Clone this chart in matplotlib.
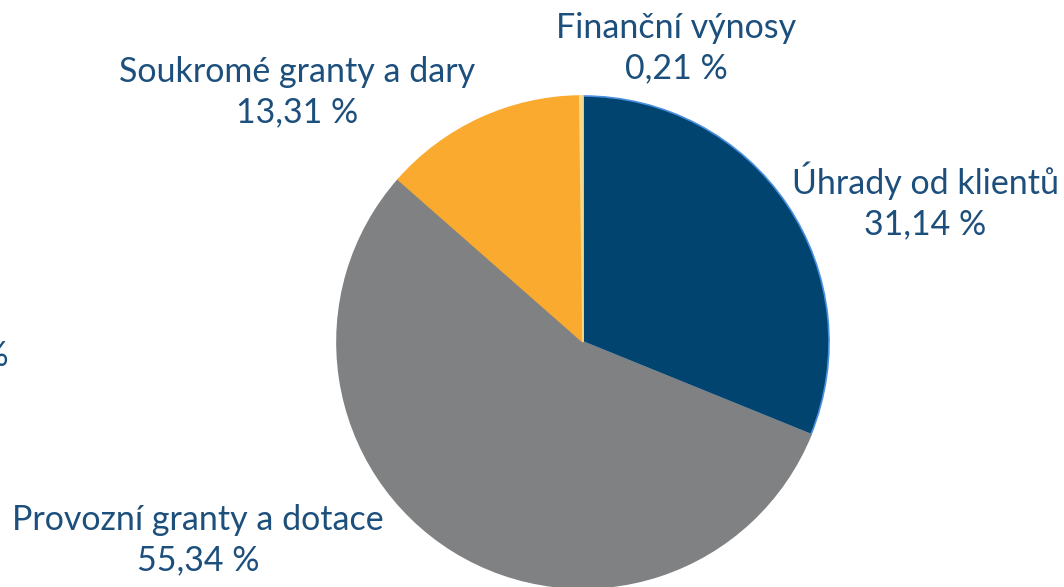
import matplotlib
matplotlib.use("Agg")
import matplotlib.pyplot as plt

categories = ["Úhrady od klientů", "Provozní granty a dotace", "Soukromé granty a dary", "Finanční výnosy"]
values = [31.14, 55.34, 13.31, 0.21]
value_labels = ["31,14 %", "55,34 %", "13,31 %", "0,21 %"]
colors = ["#00446f", "#7f8182", "#f9aa2f", "#f5d98a"]
edges = ["#4a8fe0", "#7f8182", "#f9aa2f", "#f5d98a"]

W, H = 1064, 587
fig = plt.figure(figsize=(W / 100, H / 100), dpi=100)
cx, cy, r = 583, 342, 246
ax = fig.add_axes([(cx - r) / W, (H - cy - r) / H, 2 * r / W, 2 * r / H])
wedges, _ = ax.pie(values, colors=colors, startangle=90, counterclock=False,
                   wedgeprops=dict(linewidth=1.2))
for w, e in zip(wedges, edges):
    w.set_edgecolor(e)
ax.set_aspect("equal")
ax.set_xlim(-1, 1)
ax.set_ylim(-1, 1)
ax.axis("off")

txt_color = "#1c4f7c"
font = dict(family=["Lato", "DejaVu Sans"], fontweight="normal", fontsize=24.5, color=txt_color)
label_pos = [(925, 201), (198, 540), (297, 92), (676, 48)]
for cat, vl, (px, py) in zip(categories, value_labels, label_pos):
    fig.text(px / W, 1 - py / H, cat + "\n" + vl, ha="center", va="center",
             linespacing=1.3, **font)

# partially visible label at the left edge
fig.text(9 / W, 1 - 355 / H, "0,00 %", ha="right", va="center", **font)

fig.savefig("out.png", dpi=100)
